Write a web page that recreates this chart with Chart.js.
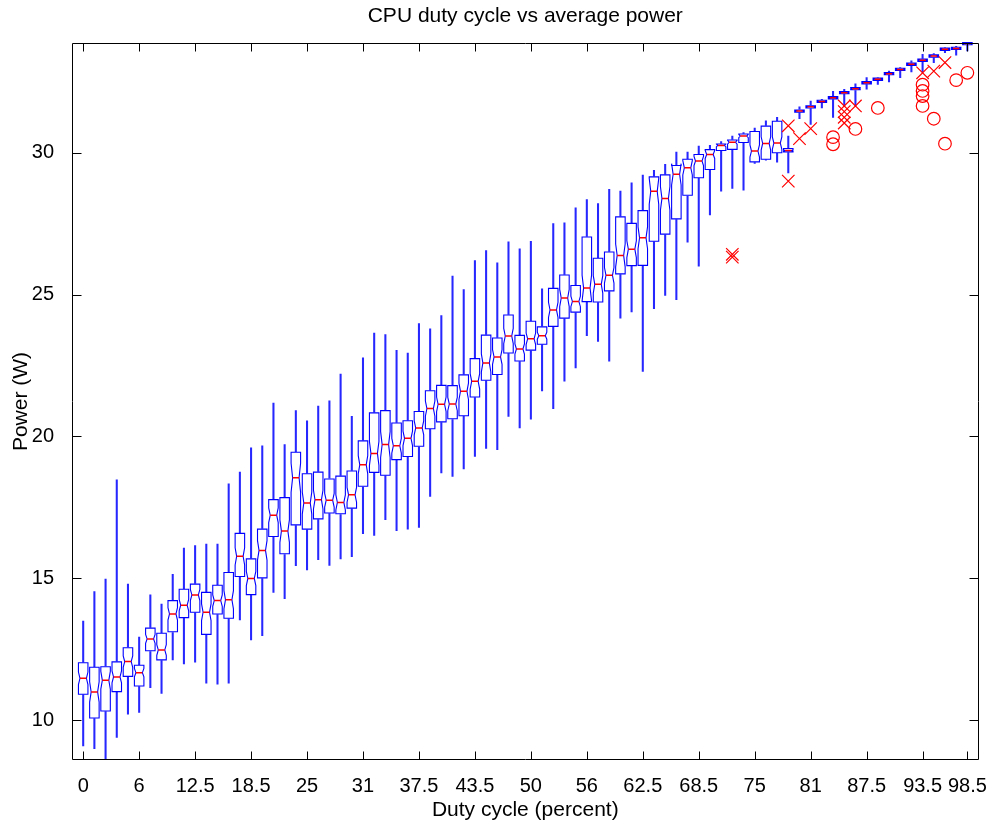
<!DOCTYPE html>
<html>
<head>
<meta charset="utf-8">
<script src="https://cdn.jsdelivr.net/npm/chart.js@4.4.1/dist/chart.umd.min.js"></script>
<style>
  html, body { margin: 0; padding: 0; background: #fff; }
</style>
</head>
<body>
<canvas id="chart" width="993" height="824"></canvas>
<script>
// x ticks sit under every fifth box (index), plus the last one
const xTickPos = [0, 5, 10, 15, 20, 25, 30, 35, 40, 45, 50, 55, 60, 65, 70, 75, 79];
const xTickLabels = ['0', '6', '12.5', '18.5', '25', '31', '37.5', '43.5', '50', '56',
                     '62.5', '68.5', '75', '81', '87.5', '93.5', '98.5'];
const yTickVals = [10, 15, 20, 25, 30];

// one entry per duty cycle step (80 boxes)
const whiskerLow = [
  9.09, 8.99, 8.30, 9.39, 10.21, 10.27, 11.14, 10.94, 12.12, 11.98,
  12.04, 11.30, 11.26, 11.30, 13.53, 12.82, 12.97, 14.50, 14.28, 15.44,
  15.29, 15.65, 15.45, 15.68, 15.76, 16.57, 16.51, 17.06, 16.68, 16.73,
  16.79, 17.88, 18.71, 18.59, 18.85, 19.29, 19.58, 19.53, 20.70, 20.30,
  20.61, 21.60, 20.98, 21.95, 22.41, 23.55, 23.35, 22.65, 24.17, 24.39,
  22.29, 24.50, 24.97, 24.82, 26.85, 26.00, 27.81, 28.65, 28.74, 28.68,
  29.62, 29.74, 29.67, 29.29, 31.20, 31.00, 31.58, 31.25, 31.65, 31.67,
  32.24, 32.41, 32.50, 32.65, 32.85, 32.85, 33.18, 33.53, 33.44, 33.59
];
const boxLow = [
  10.91, 10.07, 10.32, 11.00, 11.54, 11.20, 12.44, 12.12, 13.11, 13.61,
  13.80, 13.02, 13.74, 13.59, 15.06, 14.42, 15.01, 16.47, 15.86, 16.88,
  16.73, 17.09, 17.30, 17.27, 17.47, 18.24, 18.73, 18.63, 19.18, 19.29,
  19.65, 20.27, 20.51, 20.62, 20.73, 21.39, 21.98, 22.18, 22.94, 22.66,
  23.04, 23.25, 23.88, 24.17, 24.38, 24.75, 24.74, 25.13, 25.73, 26.02,
  26.03, 26.88, 27.13, 27.67, 28.50, 29.12, 29.41, 30.08, 30.12, 30.36,
  29.68, 29.77, 30.00, 30.03, 31.43, 31.58, 31.77, 31.90, 32.08, 32.22,
  32.43, 32.55, 32.75, 32.90, 33.08, 33.22, 33.37, 33.61, 33.64, 33.81
];
const boxMedian = [
  11.47, 10.99, 11.40, 11.52, 12.06, 11.67, 12.86, 12.47, 13.74, 14.05,
  14.41, 13.80, 14.21, 14.24, 15.77, 14.99, 15.98, 17.22, 16.66, 18.54,
  17.65, 17.77, 17.75, 17.67, 17.94, 19.00, 19.40, 19.71, 19.67, 19.93,
  20.30, 20.98, 21.13, 21.14, 21.59, 21.94, 22.59, 22.80, 23.54, 23.08,
  23.44, 23.55, 24.46, 24.88, 24.76, 25.23, 25.36, 25.68, 26.38, 26.60,
  27.00, 28.64, 28.39, 29.24, 29.47, 29.71, 29.94, 30.26, 30.37, 30.59,
  30.06, 30.33, 30.34, 30.08, 31.47, 31.62, 31.81, 31.94, 32.12, 32.26,
  32.47, 32.59, 32.79, 32.94, 33.12, 33.26, 33.41, 33.65, 33.68, 33.85
];
const boxHigh = [
  12.02, 11.86, 11.88, 12.05, 12.55, 11.93, 13.24, 13.06, 14.21, 14.61,
  14.79, 14.50, 14.75, 15.20, 16.58, 15.68, 16.73, 17.77, 17.84, 19.44,
  18.68, 18.74, 18.50, 18.60, 18.78, 19.84, 20.83, 20.91, 20.47, 20.55,
  20.88, 21.61, 21.80, 21.79, 22.17, 22.74, 23.57, 23.47, 24.28, 23.56,
  24.06, 23.86, 25.22, 25.69, 25.32, 27.03, 26.28, 26.50, 27.74, 27.51,
  27.96, 29.15, 29.22, 29.55, 29.77, 29.94, 30.11, 30.31, 30.45, 30.66,
  30.75, 30.94, 31.11, 30.15, 31.51, 31.66, 31.85, 31.98, 32.16, 32.30,
  32.51, 32.63, 32.83, 32.98, 33.16, 33.30, 33.45, 33.69, 33.72, 33.89
];
const whiskerHigh = [
  13.49, 14.53, 14.97, 18.47, 14.79, 12.92, 14.41, 14.09, 15.14, 16.06,
  16.15, 16.20, 16.20, 18.33, 18.74, 19.60, 19.67, 21.17, 19.71, 20.91,
  20.55, 21.07, 21.25, 22.20, 20.71, 22.77, 23.64, 23.59, 23.03, 22.94,
  23.98, 23.79, 24.26, 25.65, 25.18, 26.20, 26.55, 26.12, 26.86, 26.61,
  26.88, 25.20, 27.50, 27.53, 28.06, 28.35, 28.21, 28.71, 28.65, 28.94,
  29.21, 29.38, 29.59, 30.02, 30.02, 30.24, 30.26, 30.39, 30.59, 30.71,
  30.87, 31.13, 31.25, 30.59, 31.62, 31.82, 31.88, 32.17, 32.24, 32.43,
  32.65, 32.65, 32.88, 33.00, 33.24, 33.47, 33.50, 33.71, 33.75, 33.92
];

// outliers: box index + power value
const crossIdx = [58, 58, 63, 63, 64, 65, 68, 68, 68, 68, 69, 75, 76, 77];
const crossVal = [26.32, 26.42, 30.95, 29.00, 30.50, 30.85, 31.65, 31.45, 31.25, 31.05, 31.65, 32.82, 32.88, 33.18];
const circleIdx = [67, 67, 69, 71, 75, 75, 75, 75, 76, 77, 78, 79];
const circleVal = [30.55, 30.30, 30.84, 31.58, 32.40, 32.18, 32.00, 31.65, 31.20, 30.32, 32.56, 32.82];

const FONT = '"Liberation Sans", Arial, Helvetica, sans-serif';
const BLUE = '#0000ff';
const RED = '#ff0000';

// notched outline on top of the white box bars
const notchOutline = {
  id: 'notchOutline',
  afterDatasetDraw(chart, args) {
    if (!chart.data.datasets[args.index].notched) return;
    const ctx = chart.ctx;
    const y = chart.scales.y;
    ctx.save();
    ctx.strokeStyle = BLUE;
    ctx.lineWidth = 1.1;
    args.meta.data.forEach((bar, i) => {
      const nh = 0.2 * (boxHigh[i] - boxLow[i]);
      const half = bar.width / 2;
      const inset = half * 0.32;
      const yHi = y.getPixelForValue(boxHigh[i]);
      const yLo = y.getPixelForValue(boxLow[i]);
      const yM = y.getPixelForValue(boxMedian[i]);
      const yNH = y.getPixelForValue(boxMedian[i] + nh);
      const yNL = y.getPixelForValue(boxMedian[i] - nh);
      const l = bar.x - half, r = bar.x + half;
      ctx.beginPath();
      ctx.moveTo(l, yHi);
      ctx.lineTo(r, yHi);
      ctx.lineTo(r, yNH);
      ctx.lineTo(r - inset, yM);
      ctx.lineTo(r, yNL);
      ctx.lineTo(r, yLo);
      ctx.lineTo(l, yLo);
      ctx.lineTo(l, yNL);
      ctx.lineTo(l + inset, yM);
      ctx.lineTo(l, yNH);
      ctx.closePath();
      ctx.stroke();
    });
    ctx.restore();
  }
};

// box frame with inward ticks on all four sides
const frameTicks = {
  id: 'frameTicks',
  afterDraw(chart) {
    const {ctx, chartArea: a, scales: {x, y}} = chart;
    const L = Math.round(a.left) + 0.5, R = Math.round(a.right) - 0.5;
    const T = Math.round(a.top) + 0.5, B = Math.round(a.bottom) - 0.5;
    ctx.save();
    ctx.strokeStyle = '#000';
    ctx.lineWidth = 1;
    ctx.beginPath();
    ctx.rect(L, T, R - L, B - T);
    x.ticks.forEach(t => {
      const px = Math.round(x.getPixelForValue(t.value)) + 0.5;
      ctx.moveTo(px, B); ctx.lineTo(px, B - 8);
      ctx.moveTo(px, T); ctx.lineTo(px, T + 8);
    });
    y.ticks.forEach(t => {
      const py = Math.round(y.getPixelForValue(t.value)) + 0.5;
      ctx.moveTo(L, py); ctx.lineTo(L + 9, py);
      ctx.moveTo(R, py); ctx.lineTo(R - 9, py);
    });
    ctx.stroke();
    ctx.restore();
  }
};

const idx = whiskerLow.map((_, i) => i);

new Chart(document.getElementById('chart'), {
  type: 'bar',
  data: {
    datasets: [
      {
        type: 'scatter',
        label: 'outliers x',
        data: crossIdx.map((v, i) => ({x: v, y: crossVal[i]})),
        pointStyle: 'crossRot',
        pointRadius: 8.8,
        pointBorderColor: RED,
        pointBackgroundColor: RED,
        pointBorderWidth: 1.2,
        order: 1
      },
      {
        type: 'scatter',
        label: 'outliers o',
        data: circleIdx.map((v, i) => ({x: v, y: circleVal[i]})),
        pointStyle: 'circle',
        pointRadius: 6.3,
        pointBorderColor: RED,
        pointBackgroundColor: 'rgba(0,0,0,0)',
        pointBorderWidth: 1.2,
        order: 1
      },
      {
        type: 'scatter',
        label: 'median',
        data: idx.map(i => ({x: i, y: boxMedian[i]})),
        pointStyle: 'line',
        pointRadius: 3.2,
        pointBorderColor: RED,
        pointBorderWidth: 1.5,
        order: 2
      },
      {
        label: 'box',
        notched: true,
        data: idx.map(i => ({x: i, y: [boxLow[i], boxHigh[i]]})),
        backgroundColor: '#ffffff',
        borderWidth: 0,
        barThickness: 9.5,
        grouped: false,
        order: 3
      },
      {
        label: 'whisker',
        data: idx.map(i => ({x: i, y: [whiskerLow[i], whiskerHigh[i]]})),
        backgroundColor: 'rgba(0,0,255,0.85)',
        borderWidth: 0,
        barThickness: 1.4,
        grouped: false,
        order: 4
      }
    ]
  },
  options: {
    responsive: false,
    animation: false,
    events: [],
    layout: { padding: { left: 0, right: 14, top: 0, bottom: 0 } },
    plugins: {
      legend: { display: false },
      tooltip: { enabled: false },
      title: {
        display: true,
        text: 'CPU duty cycle vs average power',
        fullSize: false,
        color: '#000',
        font: { family: FONT, size: 21, weight: 'normal' },
        padding: { top: 4, bottom: 13.8 }
      }
    },
    scales: {
      x: {
        type: 'linear',
        offset: false,
        min: -1,
        max: 80,
        grid: { display: false },
        border: { display: false },
        afterBuildTicks: s => { s.ticks = xTickPos.map(v => ({value: v})); },
        afterFit: s => { s.height = 64; },
        ticks: {
          autoSkip: false,
          maxRotation: 0,
          padding: 6,
          color: '#000',
          font: { family: FONT, size: 20 },
          callback: v => xTickLabels[xTickPos.indexOf(v)]
        },
        title: {
          display: true,
          text: 'Duty cycle (percent)',
          color: '#000',
          font: { family: FONT, size: 21 },
          padding: { top: 0, bottom: 1 }
        }
      },
      y: {
        type: 'linear',
        min: 8.59,
        max: 33.87,
        grid: { display: false },
        border: { display: false },
        afterBuildTicks: s => { s.ticks = yTickVals.map(v => ({value: v})); },
        afterFit: s => { s.width = 72; },
        ticks: {
          padding: 10,
          color: '#000',
          font: { family: FONT, size: 20 }
        },
        title: {
          display: true,
          text: 'Power (W)',
          color: '#000',
          font: { family: FONT, size: 21 },
          padding: { top: 9, bottom: 0 }
        }
      }
    }
  },
  plugins: [notchOutline, frameTicks]
});
</script>
</body>
</html>
